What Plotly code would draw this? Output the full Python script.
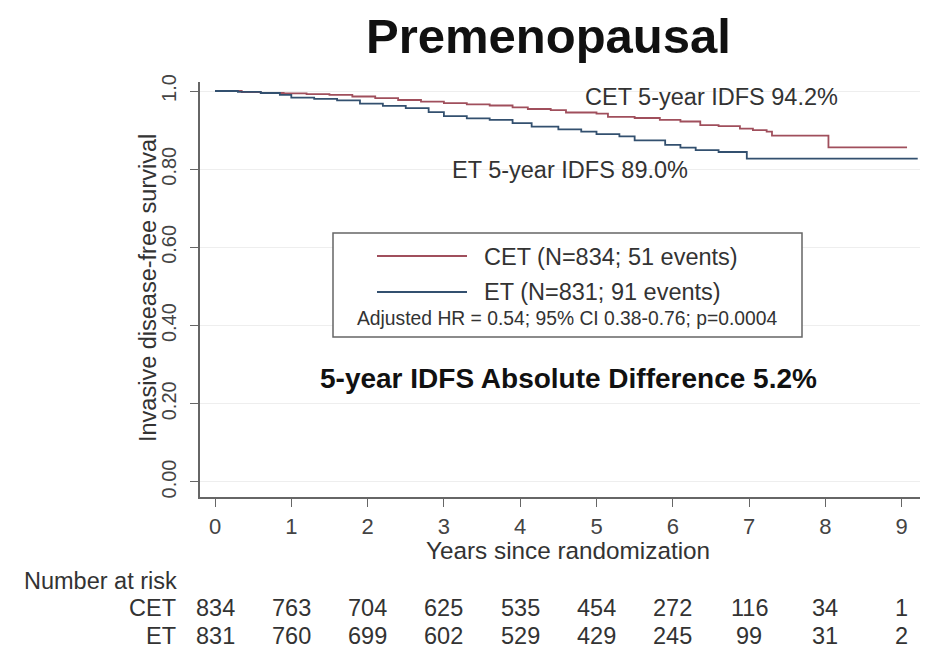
import plotly.graph_objects as go

# Kaplan-Meier step estimates (years, survival probability)
cet_time = [0, 0.35, 0.6, 0.9, 1.2, 1.5, 1.8, 2.1, 2.4, 2.7, 3.0, 3.3, 3.6, 3.9, 4.1,
            4.4, 4.6, 5.0, 5.15, 5.5, 5.83, 6.1, 6.36, 6.6, 6.88, 7.05, 7.23, 7.3, 8.04, 9.07]
cet_surv = [1.0, 0.997, 0.995, 0.994, 0.992, 0.990, 0.986, 0.982, 0.977, 0.973, 0.969,
            0.966, 0.963, 0.958, 0.954, 0.951, 0.945, 0.942, 0.934, 0.931, 0.926, 0.922,
            0.913, 0.910, 0.904, 0.900, 0.896, 0.886, 0.856, 0.856]

et_time = [0, 0.3, 0.6, 0.85, 1.0, 1.3, 1.6, 1.9, 2.2, 2.5, 2.8, 3.0, 3.3, 3.6, 3.9,
           4.15, 4.5, 4.8, 5.0, 5.3, 5.5, 5.9, 6.1, 6.3, 6.6, 6.97, 9.21]
et_surv = [1.0, 0.998, 0.995, 0.990, 0.983, 0.980, 0.976, 0.968, 0.962, 0.956, 0.946,
           0.936, 0.930, 0.926, 0.918, 0.909, 0.902, 0.896, 0.890, 0.884, 0.874, 0.862,
           0.855, 0.849, 0.844, 0.827, 0.827]

# Number at risk table
risk_years = [0, 1, 2, 3, 4, 5, 6, 7, 8, 9]
risk_cet = [834, 763, 704, 625, 535, 454, 272, 116, 34, 1]
risk_et = [831, 760, 699, 602, 529, 429, 245, 99, 31, 2]

y_ticks = [0, 0.2, 0.4, 0.6, 0.8, 1.0]
y_tick_text = ["0.00", "0.20", "0.40", "0.60", "0.80", "1.0"]

CET_COLOR = "#a04f5c"
ET_COLOR = "#33506f"
TEXT = "#333333"
FONT = "Liberation Sans, Arial, sans-serif"

W, H = 925, 659
L, R, T, B = 200, 920, 82, 497  # plot area in pixels


def px(x):
    return (x - L) / (R - L)


def py(y):
    return (B - y) / (B - T)


fig = go.Figure()
fig.add_trace(go.Scatter(x=cet_time, y=cet_surv, mode="lines", line_shape="hv",
                         line=dict(color=CET_COLOR, width=1.8), name="CET"))
fig.add_trace(go.Scatter(x=et_time, y=et_surv, mode="lines", line_shape="hv",
                         line=dict(color=ET_COLOR, width=1.8), name="ET"))

ann = []


def text(x, y, s, size, xanchor="center", bold=False, xref="paper", yref="paper", angle=0):
    ann.append(dict(x=x, y=y, xref=xref, yref=yref, text=f"<b>{s}</b>" if bold else s,
                    showarrow=False, xanchor=xanchor, yanchor="middle", textangle=angle,
                    font=dict(family=FONT, size=size, color="#111111" if bold else TEXT)))


text(px(548), py(36), "Premenopausal", 49, bold=True)
text(px(583), py(97), "CET 5-year IDFS 94.2%", 23.5, xanchor="left")
text(px(450), py(170), "ET 5-year IDFS 89.0%", 23.5, xanchor="left")
text(px(482), py(257), "CET (N=834; 51 events)", 23.5, xanchor="left")
text(px(482), py(292), "ET (N=831; 91 events)", 23.5, xanchor="left")
text(px(567), py(318), "Adjusted HR = 0.54; 95% CI 0.38-0.76; p=0.0004", 19.3)
text(px(568), py(378), "5-year IDFS Absolute Difference 5.2%", 28, bold=True)
text(px(568), py(550), "Years since randomization", 24.3)
text(px(148), py(288), "Invasive disease-free survival", 23.5, angle=-90)
text(px(22), py(581), "Number at risk", 23.5, xanchor="left")
text(px(178), py(608), "CET", 23.5, xanchor="right")
text(px(178), py(636), "ET", 23.5, xanchor="right")
for yr, a, b in zip(risk_years, risk_cet, risk_et):
    text(yr, py(608), str(a), 23.5, xref="x")
    text(yr, py(636), str(b), 23.5, xref="x")

shapes = [
    dict(type="rect", xref="paper", yref="paper", x0=px(333), x1=px(802), y0=py(337), y1=py(233),
         line=dict(color="#666666", width=1.5), fillcolor="white", layer="above"),
    dict(type="line", xref="paper", yref="paper", x0=px(377), x1=px(467), y0=py(256), y1=py(256),
         line=dict(color=CET_COLOR, width=2)),
    dict(type="line", xref="paper", yref="paper", x0=px(377), x1=px(467), y0=py(292), y1=py(292),
         line=dict(color=ET_COLOR, width=2)),
]

fig.update_layout(
    width=W, height=H,
    margin=dict(l=L, r=W - R, t=T, b=H - B, autoexpand=False),
    paper_bgcolor="white", plot_bgcolor="white",
    showlegend=False,
    annotations=ann, shapes=shapes,
    xaxis=dict(range=[(L - 215) / 76.3, (R - 215) / 76.3], tickvals=risk_years,
               showgrid=False, zeroline=False, showline=True, linecolor="#666666", linewidth=1.5,
               ticks="outside", ticklen=8, tickwidth=1.2, tickcolor="#666666",
               tickfont=dict(family=FONT, size=22, color="#444444"), ticklabelstandoff=1),
    yaxis=dict(range=[(482 - B) / 390, 1 + (91 - T) / 390], tickvals=y_ticks, ticktext=y_tick_text,
               tickangle=-90, showgrid=True, gridcolor="#eeeeee", gridwidth=1, zeroline=False,
               showline=True, linecolor="#666666", linewidth=1.5,
               ticks="outside", ticklen=8, tickwidth=1.2, tickcolor="#666666",
               tickfont=dict(family=FONT, size=20, color="#444444"), ticklabelstandoff=6),
)

fig.write_html("out.html")
